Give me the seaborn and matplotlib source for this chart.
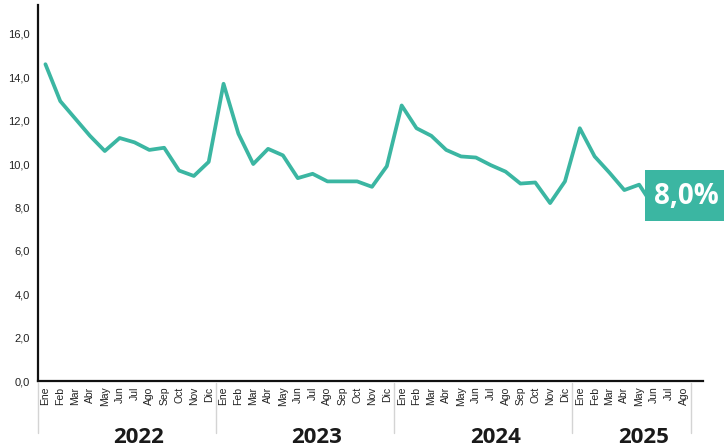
import matplotlib
matplotlib.use("Agg")
import matplotlib.pyplot as plt
from matplotlib.patches import Rectangle
import matplotlib.transforms as mtransforms
import seaborn as sns
import pandas as pd

# ---- data ----
years = ["2022", "2023", "2024", "2025"]
month_names = ["Ene", "Feb", "Mar", "Abr", "May", "Jun", "Jul", "Ago", "Sep", "Oct", "Nov", "Dic"]
months_2025_shown = 8  # Ene..Ago 2025 on the axis

values_2022 = [14.6, 12.9, 12.1, 11.3, 10.6, 11.2, 11.0, 10.65, 10.75, 9.7, 9.45, 10.1]
values_2023 = [13.7, 11.4, 10.0, 10.7, 10.4, 9.35, 9.55, 9.2, 9.2, 9.2, 8.95, 9.9]
values_2024 = [12.7, 11.65, 11.3, 10.65, 10.35, 10.3, 9.95, 9.65, 9.1, 9.15, 8.2, 9.2]
values_2025 = [11.65, 10.35, 9.6, 8.8, 9.05, 8.0]
last_label = "8,0%"

yticks = [0, 2, 4, 6, 8, 10, 12, 14, 16]

# ---- build table ----
tick_labels = month_names * 3 + month_names[:months_2025_shown]
vals = values_2022 + values_2023 + values_2024 + values_2025
df = pd.DataFrame({"idx": list(range(len(vals))), "value": vals})

teal = "#3BB6A2"

sns.set_theme(style="white")
plt.rcParams["font.family"] = ["Liberation Sans", "DejaVu Sans"]

fig = plt.figure(figsize=(7.24, 4.48), dpi=100)
ax = fig.add_axes([38 / 724, 1 - 381 / 448, (703 - 38) / 724, (381 - 5) / 448])

sns.lineplot(data=df, x="idx", y="value", ax=ax, color=teal, linewidth=2.7,
             solid_joinstyle="round", solid_capstyle="round", zorder=3)

ax.set_xlim(-0.5, 44.3)
ax.set_ylim(0, 17.33)
ax.set_xlabel("")
ax.set_ylabel("")

ax.set_yticks(yticks)
ax.set_yticklabels([f"{v:.1f}".replace(".", ",") for v in yticks], fontsize=8, color="#222222")
ax.set_xticks(range(len(tick_labels)))
ax.set_xticklabels(tick_labels, rotation=90, fontsize=7.5, color="#222222")
ax.tick_params(axis="both", length=0)
ax.tick_params(axis="y", pad=6)
ax.tick_params(axis="x", pad=4)

for s in ["top", "right"]:
    ax.spines[s].set_visible(False)
for s in ["left", "bottom"]:
    ax.spines[s].set_color("#111111")
    ax.spines[s].set_linewidth(1.6)
ax.grid(False)

# year separators and labels
trans = mtransforms.blended_transform_factory(ax.transData, ax.transAxes)
starts = [0, 12, 24, 36]
ends = [12, 24, 36, 36 + months_2025_shown]
for b in starts + [ends[-1]]:
    ax.plot([b - 0.5, b - 0.5], [-0.005, -0.138], transform=trans, color="#d4d4d4",
            linewidth=1, clip_on=False)
for y, s, e in zip(years, starts, ends):
    cx = (s + e - 1) / 2 + 0.8
    ax.text(cx, -0.166, y, transform=trans, ha="center", va="baseline",
            fontsize=16, fontweight="bold", color="#1a1a1a", family=["Open Sans", "DejaVu Sans"])

# last value label box
rect = Rectangle((645 / 724, 1 - 221 / 448), (724 - 645) / 724, 51 / 448,
                 transform=fig.transFigure, facecolor=teal, edgecolor="none", zorder=10)
fig.patches.append(rect)
fig.text(686 / 724, 1 - 196 / 448, last_label, ha="center", va="center", color="white",
         fontsize=20, fontweight="bold", family=["Open Sans", "DejaVu Sans"], zorder=11)

fig.savefig("out.png", dpi=100)
